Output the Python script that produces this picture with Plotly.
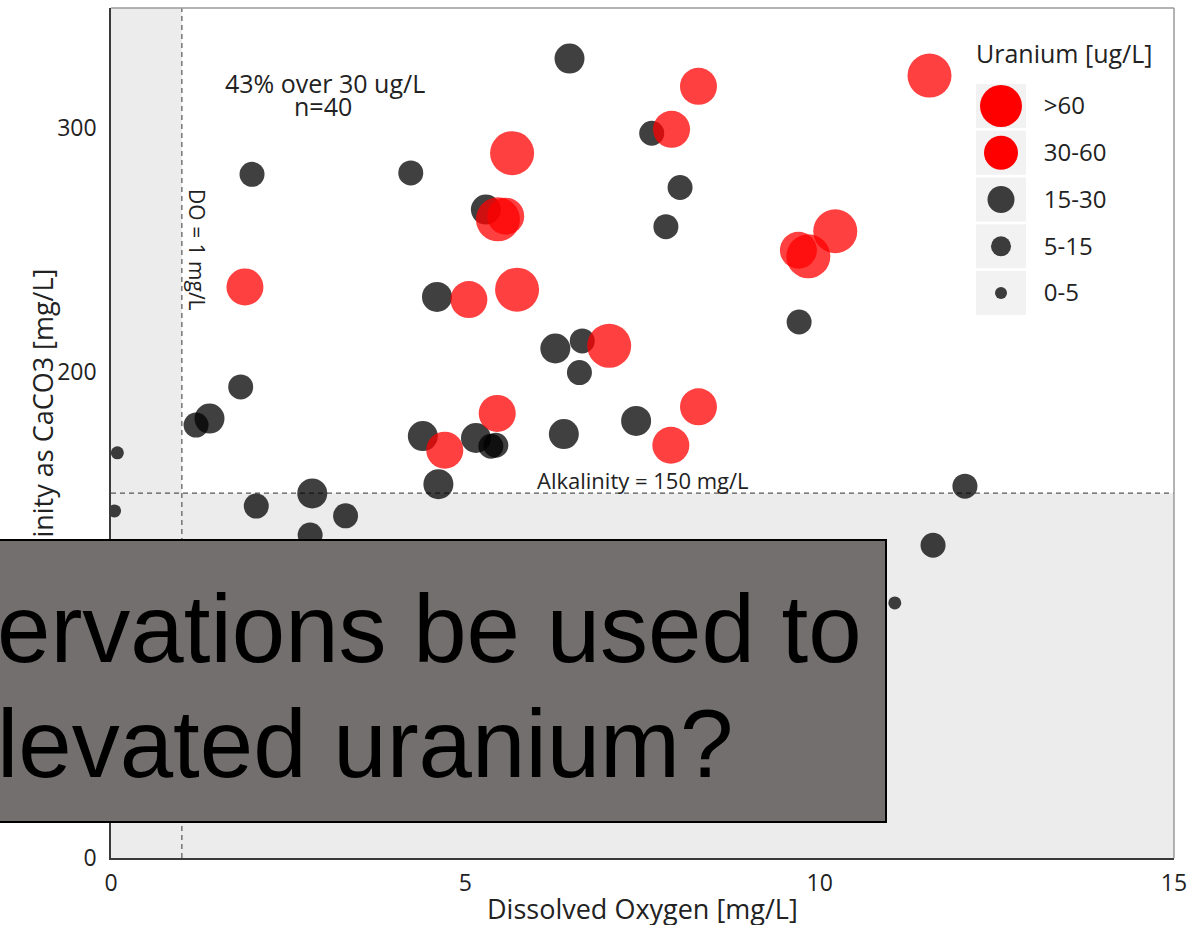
import plotly.graph_objects as go

# ---------------- data ----------------
dissolved_oxygen = [
    11.55, 8.29, 7.91, 5.66, 5.46, 5.57, 5.05, 5.73, 10.22, 9.70, 9.84, 1.89,
    7.03, 5.45, 8.29, 4.71, 7.90,
    6.47, 7.63, 4.23, 1.99, 5.29, 8.03, 7.83, 4.60, 9.71, 6.27, 6.65, 6.61,
    7.41, 4.40, 5.15, 5.36, 5.43, 6.39, 4.62, 1.83, 1.39, 1.20, 12.05,
    0.09, 0.05, 2.05, 2.84, 3.31, 2.81, 11.60, 11.06,
]
alkalinity = [
    321.7, 317.3, 299.6, 289.8, 262.6, 263.9, 229.6, 233.7, 257.7, 249.9, 247.4, 234.8,
    210.6, 182.8, 185.5, 167.7, 169.7,
    328.7, 298.0, 281.7, 281.1, 266.6, 275.7, 259.6, 230.7, 220.4, 209.5, 212.6, 199.6,
    179.7, 173.5, 172.7, 169.3, 169.7, 174.3, 153.7, 193.7, 180.7, 178.0, 152.9,
    166.6, 142.7, 144.7, 149.9, 140.7, 132.8, 128.6, 104.9,
]
uranium_class = [
    ">60", "30-60", "30-60", ">60", ">60", "30-60", "30-60", ">60", ">60", "30-60", ">60", "30-60",
    ">60", "30-60", "30-60", "30-60", "30-60",
    "15-30", "5-15", "5-15", "5-15", "15-30", "5-15", "5-15", "15-30", "5-15", "15-30", "5-15", "5-15",
    "15-30", "15-30", "15-30", "5-15", "5-15", "15-30", "15-30", "5-15", "15-30", "5-15", "5-15",
    "0-5", "0-5", "5-15", "15-30", "5-15", "5-15", "5-15", "0-5",
]
class_order = [">60", "30-60", "15-30", "5-15", "0-5"]
x_ticks = [0, 5, 10, 15]
y_ticks = [0, 100, 200, 300]
do_threshold = 1
alk_threshold = 150

# ---------------- styles ----------------
point_color = {">60": "rgba(255,0,0,0.75)", "30-60": "rgba(255,0,0,0.75)",
               "15-30": "rgba(0,0,0,0.75)", "5-15": "rgba(0,0,0,0.75)", "0-5": "rgba(0,0,0,0.75)"}
point_size = {">60": 44, "30-60": 37, "15-30": 30, "5-15": 25, "0-5": 13}
key_color = {">60": "#ff0000", "30-60": "#ff0000", "15-30": "#3c3c3c", "5-15": "#3c3c3c", "0-5": "#3c3c3c"}
key_size = {">60": 42, "30-60": 34, "15-30": 27, "5-15": 20, "0-5": 12}

W, H = 1203, 925
ML, MR, MT, MB = 111, 29, 8, 67
PW, PH = W - ML - MR, H - MT - MB
XMAX, YMAX = 15, 349.5
FONT = "Open Sans, Noto Sans, sans-serif"
TXT = "#222222"


def px(xp):
    return (xp - ML) / PW


def py(yp):
    return (H - MB - yp) / PH


fig = go.Figure()

# data points, low classes first so red circles sit on top
for cls in reversed(class_order):
    xs = [x for x, c in zip(dissolved_oxygen, uranium_class) if c == cls]
    ys = [y for y, c in zip(alkalinity, uranium_class) if c == cls]
    fig.add_trace(go.Scatter(
        x=xs, y=ys, mode="markers", xaxis="x", yaxis="y", showlegend=False,
        marker=dict(size=point_size[cls], color=point_color[cls], opacity=1, line=dict(width=0)),
        hoverinfo="skip"))

# custom legend (key backgrounds + symbols) on its own small axes
fig.add_trace(go.Bar(
    y=class_order, x=[1] * len(class_order), base=[-0.5] * len(class_order),
    orientation="h", xaxis="x2", yaxis="y2", showlegend=False,
    marker=dict(color="#f2f2f2", line=dict(width=0)), hoverinfo="skip"))
fig.add_trace(go.Scatter(
    x=[0] * len(class_order), y=class_order, mode="markers", xaxis="x2", yaxis="y2",
    showlegend=False, hoverinfo="skip",
    marker=dict(size=[key_size[c] for c in class_order], opacity=1,
                color=[key_color[c] for c in class_order], line=dict(width=0))))

shapes = [
    dict(type="rect", xref="x", yref="y", x0=0, x1=XMAX, y0=0, y1=YMAX,
         fillcolor="#ececec", line=dict(width=0), layer="below"),
    dict(type="rect", xref="x", yref="y", x0=do_threshold, x1=XMAX, y0=alk_threshold, y1=YMAX,
         fillcolor="white", line=dict(width=0), layer="below"),
    dict(type="line", xref="x", yref="y", x0=do_threshold, x1=do_threshold, y0=0, y1=YMAX,
         line=dict(color="#555555", width=1.2, dash="5px,4px"), layer="below"),
    dict(type="line", xref="x", yref="y", x0=0, x1=XMAX, y0=alk_threshold, y1=alk_threshold,
         line=dict(color="#555555", width=1.2, dash="5px,4px"), layer="below"),
    dict(type="line", xref="paper", yref="paper", x0=0, x1=1, y0=1, y1=1,
         line=dict(color="#9a9a9a", width=1.5), layer="above"),
    dict(type="line", xref="paper", yref="paper", x0=1, x1=1, y0=0, y1=1,
         line=dict(color="#9a9a9a", width=1.5), layer="above"),
]

annotations = [
    dict(text="Alkalinity as CaCO3 [mg/L]", xref="paper", yref="paper", x=px(41.5), y=0.5,
         textangle=-90, xanchor="center", yanchor="middle", showarrow=False,
         font=dict(family=FONT, size=27, color=TXT)),
    dict(text="Dissolved Oxygen [mg/L]", xref="paper", yref="paper", x=0.5, y=py(908.5),
         xanchor="center", yanchor="middle", showarrow=False,
         font=dict(family=FONT, size=27, color=TXT)),
    dict(text="43% over 30 ug/L", xref="paper", yref="paper", x=px(325), y=py(82.5),
         xanchor="center", yanchor="middle", showarrow=False,
         font=dict(family=FONT, size=25, color=TXT)),
    dict(text="n=40", xref="paper", yref="paper", x=px(323), y=py(105.5),
         xanchor="center", yanchor="middle", showarrow=False,
         font=dict(family=FONT, size=25, color=TXT)),
    dict(text="DO = 1 mg/L", xref="x", yref="y", x=do_threshold, y=250, textangle=90,
         xanchor="left", yanchor="middle", showarrow=False, borderpad=0,
         font=dict(family=FONT, size=21, color=TXT)),
    dict(text="Alkalinity = 150 mg/L", xref="x", yref="y", x=7.51, y=alk_threshold,
         xanchor="center", yanchor="bottom", yshift=-3, showarrow=False, borderpad=0,
         font=dict(family=FONT, size=22, color=TXT)),
    dict(text="Uranium [ug/L]", xref="paper", yref="paper", x=px(975), y=py(52.5),
         xanchor="left", yanchor="middle", showarrow=False, borderpad=0,
         font=dict(family=FONT, size=25, color=TXT)),
    # overlay panel
    dict(text="\u00a0", xref="paper", yref="paper", x=px(-12), y=py(539),
         xanchor="left", yanchor="top", width=895, height=280, showarrow=False,
         bgcolor="#736f6e", bordercolor="black", borderwidth=2, borderpad=0,
         font=dict(size=10)),
    dict(text="ervations be used to", xref="paper", yref="paper", x=px(-4), y=py(574),
         xanchor="left", yanchor="top", showarrow=False, borderpad=0,
         font=dict(family="Liberation Sans, Arial, sans-serif", size=96, color="black")),
    dict(text="levated uranium?", xref="paper", yref="paper", x=px(-4), y=py(689),
         xanchor="left", yanchor="top", showarrow=False, borderpad=0,
         font=dict(family="Liberation Sans, Arial, sans-serif", size=96, color="black")),
]

fig.update_layout(
    width=W, height=H,
    margin=dict(l=ML, r=MR, t=MT, b=MB, pad=0),
    paper_bgcolor="white", plot_bgcolor="white",
    showlegend=False, bargap=0.06,
    font=dict(family=FONT, color=TXT),
    xaxis=dict(domain=[0, 1], range=[0, XMAX], tickvals=x_ticks, showgrid=False, zeroline=False,
               showline=True, linecolor="#3a3a3a", linewidth=1.5,
               ticks="outside", ticklen=4, tickcolor="rgba(0,0,0,0)",
               tickfont=dict(family=FONT, size=23, color=TXT)),
    yaxis=dict(domain=[0, 1], range=[0, YMAX], tickvals=y_ticks, showgrid=False, zeroline=False,
               showline=True, linecolor="#3a3a3a", linewidth=1.5,
               ticks="outside", ticklen=8, tickcolor="rgba(0,0,0,0)",
               tickfont=dict(family=FONT, size=23, color=TXT)),
    xaxis2=dict(domain=[px(976), px(1026)], anchor="y2", range=[-0.5, 0.5],
                showgrid=False, zeroline=False, showline=False, showticklabels=False, ticks=""),
    yaxis2=dict(domain=[py(316.4), py(82.6)], anchor="x2", side="right",
                type="category", categoryorder="array", categoryarray=class_order,
                range=[len(class_order) - 0.5, -0.5],
                showgrid=False, zeroline=False, showline=False,
                ticks="outside", ticklen=12, tickcolor="rgba(0,0,0,0)",
                tickfont=dict(family=FONT, size=24, color=TXT)),
    shapes=shapes,
    annotations=annotations,
)

fig.write_html("out.html",
               config={"displayModeBar": False},
               post_script="document.body.style.margin='0';document.body.style.overflow='hidden';")
